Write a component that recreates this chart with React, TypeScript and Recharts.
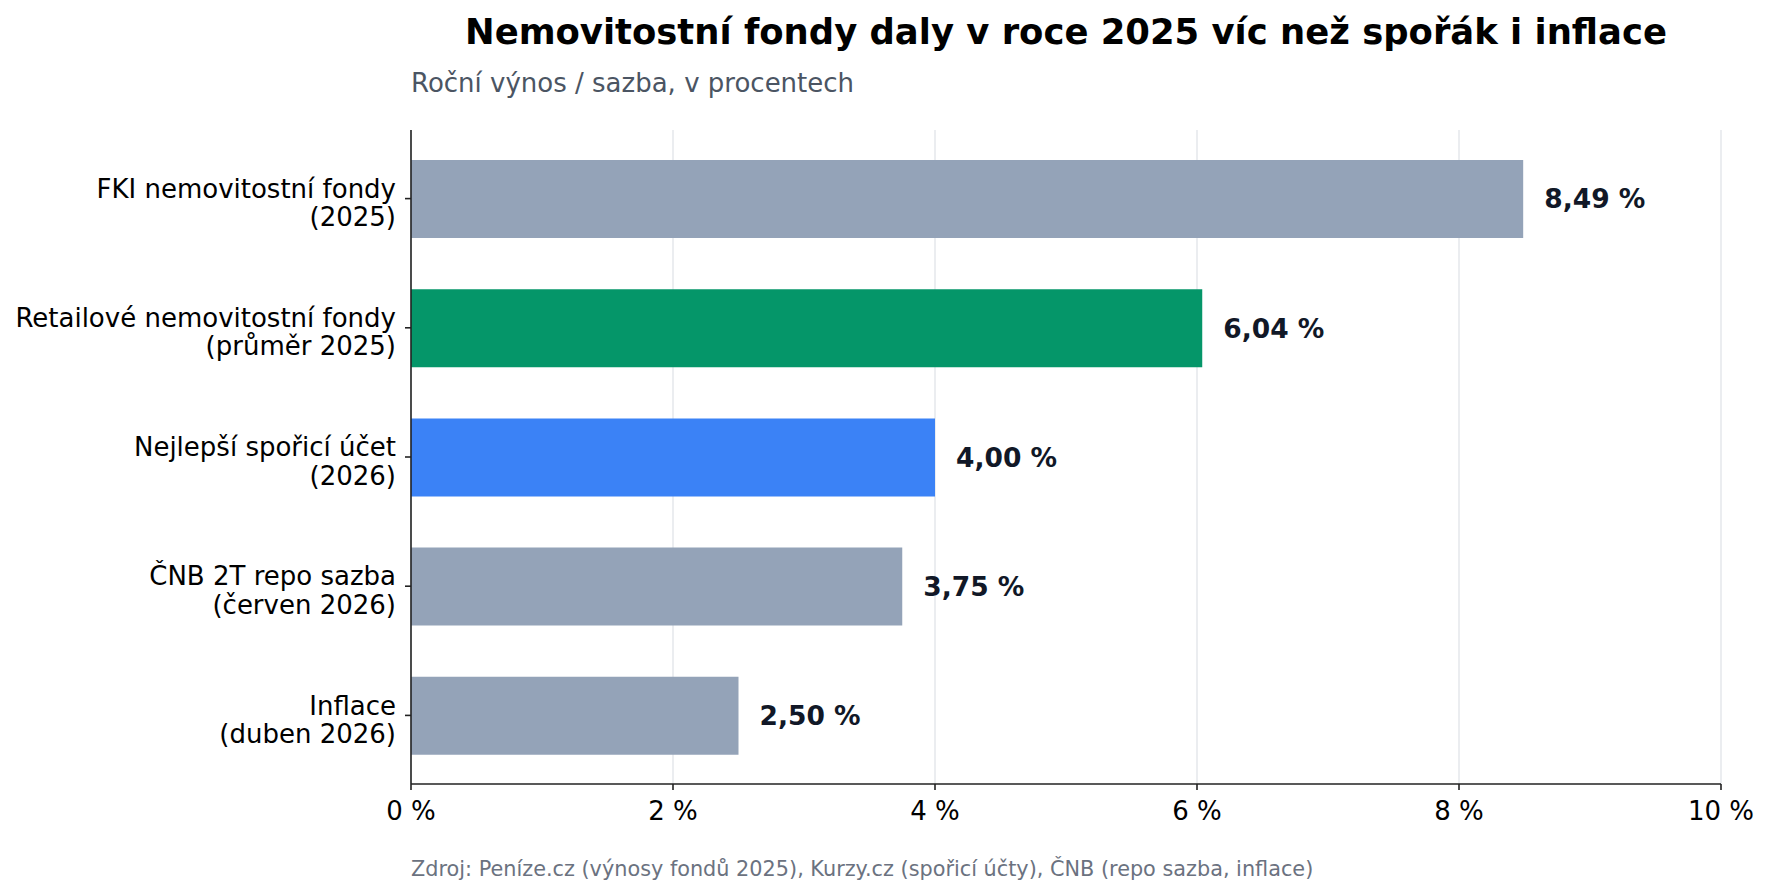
import React from 'react';
import {
  BarChart,
  Bar,
  XAxis,
  YAxis,
  CartesianGrid,
  Cell,
  LabelList,
} from 'recharts';

// data
const categories = [
  'FKI nemovitostní fondy\n(2025)',
  'Retailové nemovitostní fondy\n(průměr 2025)',
  'Nejlepší spořicí účet\n(2026)',
  'ČNB 2T repo sazba\n(červen 2026)',
  'Inflace\n(duben 2026)',
];
const values = [8.49, 6.04, 4.0, 3.75, 2.5];
const xTicks = [0, 2, 4, 6, 8, 10];

const title = 'Nemovitostní fondy daly v roce 2025 víc než spořák i inflace';
const subtitle = 'Roční výnos / sazba, v procentech';
const source =
  'Zdroj: Peníze.cz (výnosy fondů 2025), Kurzy.cz (spořicí účty), ČNB (repo sazba, inflace)';

const barColors = ['#94a3b8', '#059669', '#3b82f6', '#94a3b8', '#94a3b8'];

const FONT = '"DejaVu Sans", sans-serif';
const W = 1771;
const H = 894;
const PLOT_LEFT = 411;
const PLOT_RIGHT = 1721;

const data = categories.map((name, i) => ({ name, value: values[i] }));

const fmtPct = (v: number) => `${v.toFixed(2).replace('.', ',')} %`;

// two-line category label, first baseline sits at the tick
const CategoryTick = (props: any) => {
  const { x, y, payload } = props;
  const lines = String(payload.value).split('\n');
  const lh = 28.4;
  return (
    <text x={x} y={y} textAnchor="end" fontFamily={FONT} fontSize={26} fill="#000">
      {lines.map((l, i) => (
        <tspan key={i} x={x} y={y - 0.8 + i * lh}>
          {l}
        </tspan>
      ))}
    </text>
  );
};

const axisLine = { stroke: '#222', strokeWidth: 1.6 };

export default function App() {
  return (
    <div
      style={{
        position: 'absolute',
        left: 0,
        top: 0,
        width: W,
        height: H,
        background: '#fff',
        fontFamily: FONT,
      }}
    >
      <div
        style={{
          position: 'absolute',
          left: PLOT_LEFT,
          width: PLOT_RIGHT - PLOT_LEFT,
          top: 11,
          textAlign: 'center',
          fontSize: 35.4,
          fontWeight: 'bold',
          color: '#000',
          lineHeight: '42px',
          whiteSpace: 'nowrap',
        }}
      >
        {title}
      </div>
      <div
        style={{
          position: 'absolute',
          left: PLOT_LEFT,
          top: 67,
          fontSize: 26,
          color: '#4b5563',
          lineHeight: '32px',
          whiteSpace: 'nowrap',
        }}
      >
        {subtitle}
      </div>
      <div
        style={{
          position: 'absolute',
          left: PLOT_LEFT,
          top: 856,
          fontSize: 20.8,
          color: '#6b7280',
          lineHeight: '26px',
          whiteSpace: 'nowrap',
        }}
      >
        {source}
      </div>
      <BarChart
        width={W}
        height={H}
        data={data}
        layout="vertical"
        margin={{ top: 130, right: W - PLOT_RIGHT, bottom: 70, left: 0 }}
        style={{ position: 'absolute', left: 0, top: 0 }}
      >
        <CartesianGrid horizontal={false} stroke="#e5e7eb" strokeWidth={1.5} />
        <XAxis
          type="number"
          domain={[0, 10]}
          ticks={xTicks}
          tickFormatter={(v: number) => `${v} %`}
          height={40}
          axisLine={axisLine}
          tickLine={axisLine}
          tickSize={6}
          tickMargin={12}
          tick={{ fill: '#000', fontSize: 26, fontFamily: FONT }}
          interval={0}
        />
        <YAxis
          type="category"
          dataKey="name"
          width={PLOT_LEFT}
          axisLine={axisLine}
          tickLine={axisLine}
          tickSize={6}
          tickMargin={9}
          tick={<CategoryTick />}
          padding={{ top: 4, bottom: 4 }}
          interval={0}
        />
        <Bar dataKey="value" barSize={78} isAnimationActive={false}>
          {data.map((d, i) => (
            <Cell key={d.name} fill={barColors[i]} />
          ))}
          <LabelList
            dataKey="value"
            position="right"
            offset={21}
            formatter={(v: any) => fmtPct(Number(v))}
            fill="#111827"
            fontSize={26.5}
            fontWeight="bold"
            fontFamily={FONT}
          />
        </Bar>
      </BarChart>
    </div>
  );
}
